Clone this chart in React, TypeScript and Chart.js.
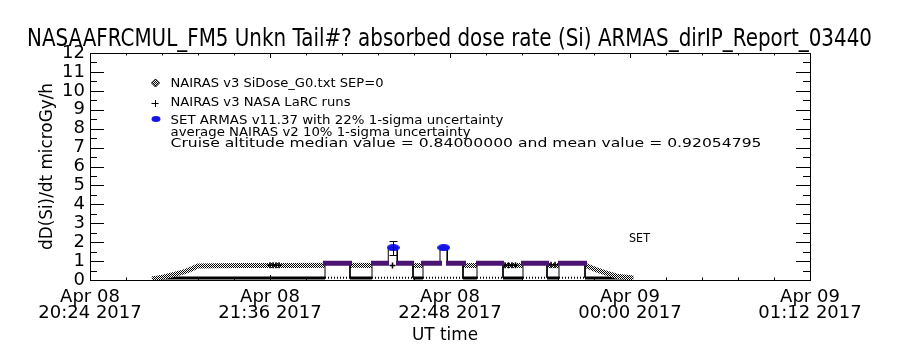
import React, { useEffect, useRef } from 'react';
import { Chart, registerables } from 'chart.js';

Chart.register(...registerables);

// ---------- text ----------
const chartTitle = 'NASAAFRCMUL_FM5 Unkn Tail#? absorbed dose rate (Si) ARMAS_dirIP_Report_03440';
const yAxisTitle = 'dD(Si)/dt microGy/h';
const xAxisTitle = 'UT time';
const legendLabels = [
  'NAIRAS v3 SiDose_G0.txt SEP=0',
  'NAIRAS v3 NASA LaRC runs',
  'SET ARMAS v11.37 with 22% 1-sigma uncertainty',
];
const noteLines = [
  'average NAIRAS v2 10% 1-sigma uncertainty',
  'Cruise altitude median value = 0.84000000 and mean value = 0.92054795',
];
const setLabel = 'SET';

// ---------- axes (x = minutes after Apr 08 2017 20:24 UT) ----------
const xMin = 0;
const xMax = 288;
const xTickValues = [0, 72, 144, 216, 288];
const xTickLabels = [
  ['Apr 08', '20:24 2017'],
  ['Apr 08', '21:36 2017'],
  ['Apr 08', '22:48 2017'],
  ['Apr 09', '00:00 2017'],
  ['Apr 09', '01:12 2017'],
];
const yMin = 0;
const yMax = 12;

// ---------- data ----------
// NAIRAS v3 SiDose_G0 model dose rate
const nairasTimes = [24.8, 29.2, 33.2, 37.2, 40.0, 43.2, 60, 80, 100, 120, 140, 160, 180, 198.7, 202.4, 205.3, 210.7, 217.3];
const nairasDose = [0.05, 0.15, 0.28, 0.42, 0.55, 0.74, 0.77, 0.77, 0.78, 0.77, 0.77, 0.76, 0.77, 0.74, 0.55, 0.42, 0.2, 0.1];
// near-zero model trace along the bottom
const baselineTimes = [24.8, 60, 100, 140, 180, 217.3];
const baselineDose = [0.1, 0.1, 0.1, 0.1, 0.1, 0.1];
// NAIRAS v3 NASA LaRC runs (+)
const larcTimes = [72.0, 73.2, 74.4, 75.6, 121.0, 166.0, 167.4, 168.8, 170.2, 184.4, 186.0];
const larcDose = [0.78, 0.78, 0.78, 0.78, 0.76, 0.78, 0.78, 0.78, 0.78, 0.8, 0.8];
// ARMAS measurement segments
const armasStart = [94.0, 112.8, 133.2, 154.8, 173.2, 187.6];
const armasEnd = [104.0, 129.2, 149.2, 165.2, 182.8, 198.0];
const armasLevel = 0.88;
const armasFloor = 0.12;
const spikeStart = [119.3, 140.0];
const spikeEnd = [122.9, 142.9];
const spikeTop = [1.6, 1.6];
// ARMAS dose-rate bars
const barStart = [93.2, 112.4, 122.4, 132.4, 142.4, 154.4, 172.4, 187.2];
const barEnd = [104.8, 119.6, 129.6, 140.8, 150.4, 165.6, 183.6, 198.8];
const barDose = [0.88, 0.88, 0.88, 0.88, 0.88, 0.88, 0.88, 0.88];
// SET events
const setTimes = [121.3, 141.5];
const setDose = [1.71, 1.71];
const setErr: (number | null)[] = [0.37, null];

const PURPLE = '#4a1470';
const BLUE = '#1414e6';
const FONT = '"DejaVu Sans"';

function fitText(ctx: CanvasRenderingContext2D, text: string, x: number, y: number, width: number, size: number, align: CanvasTextAlign) {
  ctx.save();
  ctx.font = `${size}px ${FONT}`;
  const w = ctx.measureText(text).width;
  ctx.translate(x, y);
  ctx.scale(width / w, 1);
  ctx.textAlign = align;
  ctx.textBaseline = 'alphabetic';
  ctx.fillStyle = '#000';
  ctx.fillText(text, 0, 0);
  ctx.restore();
}

function buildOutline() {
  const pts: any[] = [];
  armasStart.forEach((s, i) => {
    const e = armasEnd[i];
    pts.push({ x: s, y: armasFloor }, { x: s, y: armasLevel });
    spikeStart.forEach((ss, k) => {
      if (ss > s && ss < e) {
        pts.push({ x: ss, y: armasLevel }, { x: ss, y: spikeTop[k] }, { x: spikeEnd[k], y: spikeTop[k] }, { x: spikeEnd[k], y: armasLevel });
      }
    });
    pts.push({ x: e, y: armasLevel }, { x: e, y: armasFloor }, { x: e, y: null });
  });
  return pts;
}

export default function App() {
  const ref = useRef<HTMLCanvasElement>(null);
  useEffect(() => {
    const canvas = ref.current!;
    const c2d = canvas.getContext('2d')!;

    const pc = document.createElement('canvas');
    pc.width = 2; pc.height = 2;
    const pctx = pc.getContext('2d')!;
    pctx.fillStyle = '#fff'; pctx.fillRect(0, 0, 2, 2);
    pctx.fillStyle = '#000'; pctx.fillRect(0, 0, 1, 1); pctx.fillRect(1, 1, 1, 1);
    const checker = c2d.createPattern(pc, 'repeat')!;

    const ell = document.createElement('canvas');
    ell.width = 13; ell.height = 7;
    const ectx = ell.getContext('2d')!;
    ectx.fillStyle = BLUE;
    ectx.beginPath(); ectx.ellipse(6.5, 3.5, 6.5, 3.5, 0, 0, Math.PI * 2); ectx.fill();

    const floorPts: any[] = [];
    armasStart.forEach((s, i) => { floorPts.push({ x: s, y: armasFloor }, { x: armasEnd[i], y: armasFloor }, { x: armasEnd[i], y: null }); });
    const barPts: any[] = [];
    barStart.forEach((s, i) => { barPts.push({ x: s, y: barDose[i] }, { x: barEnd[i], y: barDose[i] }, { x: barEnd[i], y: null }); });

    const idlFrame = {
      id: 'idlFrame',
      beforeDatasetsDraw(chart: any) {
        const { ctx, chartArea: a, scales } = chart;
        ctx.save();
        ctx.strokeStyle = '#000'; ctx.lineWidth = 1;
        ctx.beginPath();
        for (let i = 0; i <= 20; i++) {
          const px = Math.round(scales.x.getPixelForValue(xMin + i * 14.4)) + 0.5;
          const len = i % 5 === 0 ? 5 : 2.5;
          ctx.moveTo(px, a.bottom); ctx.lineTo(px, a.bottom - len);
          ctx.moveTo(px, a.top); ctx.lineTo(px, a.top + len);
        }
        for (let j = 0; j <= 24; j++) {
          const py = Math.round(scales.y.getPixelForValue(yMin + j * 0.5)) + 0.5;
          const len = j % 2 === 0 ? 14 : 7;
          ctx.moveTo(a.left, py); ctx.lineTo(a.left + len, py);
          ctx.moveTo(a.right, py); ctx.lineTo(a.right - len, py);
        }
        ctx.stroke();
        ctx.restore();
      },
      afterDatasetsDraw(chart: any) {
        const { ctx, chartArea: a, scales } = chart;
        ctx.save();
        ctx.strokeStyle = '#000'; ctx.lineWidth = 1;
        ctx.beginPath();
        setTimes.forEach((t, i) => {
          const e = setErr[i];
          if (e == null) return;
          const px = Math.round(scales.x.getPixelForValue(t)) + 0.5;
          const pt = Math.round(scales.y.getPixelForValue(setDose[i] + e)) + 0.5;
          const pb = Math.round(scales.y.getPixelForValue(setDose[i] - e)) + 0.5;
          ctx.moveTo(px, pt); ctx.lineTo(px, pb);
          ctx.moveTo(px - 4, pt); ctx.lineTo(px + 4, pt);
          ctx.moveTo(px - 4, pb); ctx.lineTo(px + 4, pb);
        });
        ctx.stroke();
        ctx.strokeRect(a.left + 0.5, a.top + 0.5, a.right - a.left, a.bottom - a.top);
        ctx.restore();
      },
      afterDraw(chart: any) {
        const ctx = chart.ctx as CanvasRenderingContext2D;
        fitText(ctx, chartTitle, 449.5, 46, 845, 24, 'center');
        fitText(ctx, xAxisTitle, 445, 340, 66, 18, 'center');
        ctx.save();
        ctx.translate(52, 166.5);
        ctx.rotate(-Math.PI / 2);
        fitText(ctx, yAxisTitle, 0, 0, 167, 18, 'center');
        ctx.restore();
        ctx.save();
        ctx.beginPath();
        ctx.moveTo(155.5, 79); ctx.lineTo(159.5, 83); ctx.lineTo(155.5, 87); ctx.lineTo(151.5, 83); ctx.closePath();
        ctx.fillStyle = checker; ctx.fill();
        ctx.strokeStyle = '#000'; ctx.lineWidth = 1; ctx.stroke();
        ctx.beginPath();
        ctx.moveTo(151.5, 103.5); ctx.lineTo(158.5, 103.5);
        ctx.moveTo(155.5, 100); ctx.lineTo(155.5, 107);
        ctx.stroke();
        ctx.fillStyle = BLUE;
        ctx.beginPath(); ctx.ellipse(156, 119, 4.5, 3, 0, 0, Math.PI * 2); ctx.fill();
        ctx.restore();
        fitText(ctx, legendLabels[0], 170.5, 86.5, 213, 13, 'left');
        fitText(ctx, legendLabels[1], 170.5, 105.5, 180, 13, 'left');
        fitText(ctx, legendLabels[2], 170.5, 123.5, 333, 13, 'left');
        fitText(ctx, noteLines[0], 170.5, 136, 300, 13, 'left');
        fitText(ctx, noteLines[1], 170.5, 147, 591, 13, 'left');
        fitText(ctx, setLabel, 629, 242, 21, 13, 'left');
      },
    };

    const chart = new Chart(canvas, {
      type: 'line',
      data: {
        datasets: [
          {
            label: legendLabels[2],
            data: setTimes.map((t, i) => ({ x: t, y: setDose[i] })),
            showLine: false,
            pointStyle: ell as any,
            pointRadius: 6,
            order: 0,
          },
          {
            label: 'ARMAS bars',
            data: barPts,
            borderColor: PURPLE,
            borderWidth: 5,
            borderCapStyle: 'butt',
            pointRadius: 0,
            spanGaps: false,
            order: 1,
          },
          {
            label: legendLabels[1],
            data: larcTimes.map((t, i) => ({ x: t, y: larcDose[i] })),
            showLine: false,
            pointStyle: 'cross',
            pointRadius: 3,
            borderColor: '#000',
            borderWidth: 1.5,
            order: 2,
          },
          {
            label: 'ARMAS floor',
            data: floorPts,
            borderColor: '#000',
            borderWidth: 2,
            borderDash: [1, 2],
            pointRadius: 0,
            spanGaps: false,
            order: 3,
          },
          {
            label: 'ARMAS segments',
            data: buildOutline(),
            borderColor: '#000',
            borderWidth: 1,
            backgroundColor: '#fff',
            fill: 'origin',
            pointRadius: 0,
            spanGaps: false,
            order: 4,
          },
          {
            label: legendLabels[0],
            data: nairasTimes.map((t, i) => ({ x: t, y: nairasDose[i] })),
            borderColor: checker as any,
            borderWidth: 5,
            pointRadius: 0,
            order: 5,
          },
          {
            label: 'baseline',
            data: baselineTimes.map((t, i) => ({ x: t, y: baselineDose[i] })),
            borderColor: '#000',
            borderWidth: 3,
            pointRadius: 0,
            order: 6,
          },
        ] as any,
      },
      options: {
        responsive: false,
        animation: false,
        devicePixelRatio: 1,
        events: [],
        layout: { padding: { left: 0, right: 90, top: 53, bottom: 0 } },
        plugins: { legend: { display: false }, title: { display: false }, tooltip: { enabled: false } },
        scales: {
          x: {
            type: 'linear',
            min: xMin,
            max: xMax,
            grid: { display: false, drawTicks: false },
            border: { display: false },
            ticks: {
              stepSize: 72,
              autoSkip: false,
              maxRotation: 0,
              minRotation: 0,
              padding: 10,
              color: '#000',
              font: { family: FONT, size: 18, lineHeight: 0.85 },
              callback: (v: any) => {
                const k = xTickValues.indexOf(Number(v));
                return k >= 0 ? xTickLabels[k] : '';
              },
            },
            afterFit: (s: any) => { s.height = 70; },
          },
          y: {
            type: 'linear',
            min: yMin,
            max: yMax,
            grid: { display: false, drawTicks: false },
            border: { display: false },
            ticks: { stepSize: 1, autoSkip: false, padding: 5, color: '#000', font: { family: FONT, size: 18, lineHeight: 1 } },
            afterFit: (s: any) => { s.width = 90; },
          },
        },
      } as any,
      plugins: [idlFrame],
    });
    return () => chart.destroy();
  }, []);

  return (
    <div style={{ position: 'absolute', left: 0, top: 0, width: 900, height: 350, background: '#fff' }}>
      <canvas ref={ref} width={900} height={350} style={{ display: 'block', width: 900, height: 350 }} />
    </div>
  );
}
